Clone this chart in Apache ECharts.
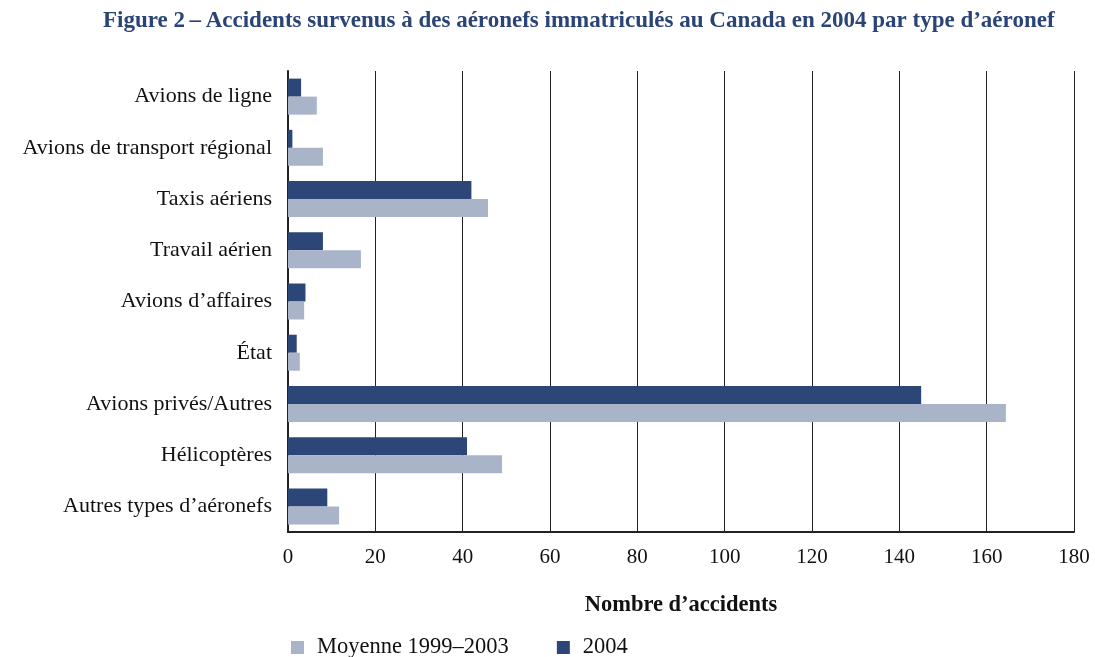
<!DOCTYPE html>
<html>
<head>
<meta charset="utf-8">
<script src="https://cdn.jsdelivr.net/npm/echarts@6/dist/echarts.min.js"></script>
<style>
  html, body { margin: 0; padding: 0; background: #fff; }
  #chart { width: 1095px; height: 657px; }
</style>
</head>
<body>
<div id="chart"></div>
<script>
const categories = [
  "Avions de ligne",
  "Avions de transport régional",
  "Taxis aériens",
  "Travail aérien",
  "Avions d’affaires",
  "État",
  "Avions privés/Autres",
  "Hélicoptères",
  "Autres types d’aéronefs"
];
const moyenne = [6.6, 8, 45.8, 16.7, 3.7, 2.7, 164.4, 49, 11.7];
const y2004 = [3, 1, 42, 8, 4, 2, 145, 41, 9];
const xTicks = [0, 20, 40, 60, 80, 100, 120, 140, 160, 180];

const serif = "'Liberation Serif', 'DejaVu Serif', serif";
const chart = echarts.init(document.getElementById("chart"));
chart.setOption({
  animation: false,
  textStyle: { fontFamily: serif },
  title: {
    text: "Figure 2\u2009–\u2009Accidents survenus à des aéronefs immatriculés au Canada en 2004 par type d’aéronef",
    left: 98, top: 5,
    textStyle: { color: "#2b4478", fontSize: 23, fontWeight: "bold", fontFamily: serif }
  },
  legend: {
    data: ["Moyenne 1999–2003", "2004"],
    left: 286, top: 631,
    itemWidth: 13, itemHeight: 13, itemGap: 48,
    icon: "rect",
    textStyle: { fontSize: 22.5, color: "#111", fontFamily: serif, padding: [0, 0, 0, 8] }
  },
  grid: { left: 288, right: 21, top: 71, bottom: 125 },
  xAxis: {
    type: "value",
    min: xTicks[0], max: xTicks[xTicks.length - 1], interval: 20,
    name: "Nombre d’accidents",
    nameLocation: "middle", nameGap: 62,
    nameTextStyle: { fontSize: 22.5, fontWeight: "bold", color: "#111", fontFamily: serif },
    axisLine: { show: true, lineStyle: { color: "#222", width: 2 } },
    axisTick: { show: false },
    axisLabel: { fontSize: 21, color: "#111", margin: 15, fontFamily: serif },
    splitLine: { show: true, lineStyle: { color: "#222", width: 1 } }
  },
  yAxis: {
    type: "category",
    data: categories,
    inverse: true,
    axisLine: { show: true, lineStyle: { color: "#222", width: 2 } },
    axisTick: { show: false },
    axisLabel: { fontSize: 22, color: "#111", margin: 16, fontFamily: serif }
  },
  series: [
    {
      name: "2004", type: "bar", data: y2004,
      barWidth: 18, barGap: "0%",
      itemStyle: { color: "#2b4677" }
    },
    {
      name: "Moyenne 1999–2003", type: "bar", data: moyenne,
      barWidth: 18, barGap: "0%",
      itemStyle: { color: "#a9b4c9" }
    }
  ]
});
</script>
</body>
</html>
